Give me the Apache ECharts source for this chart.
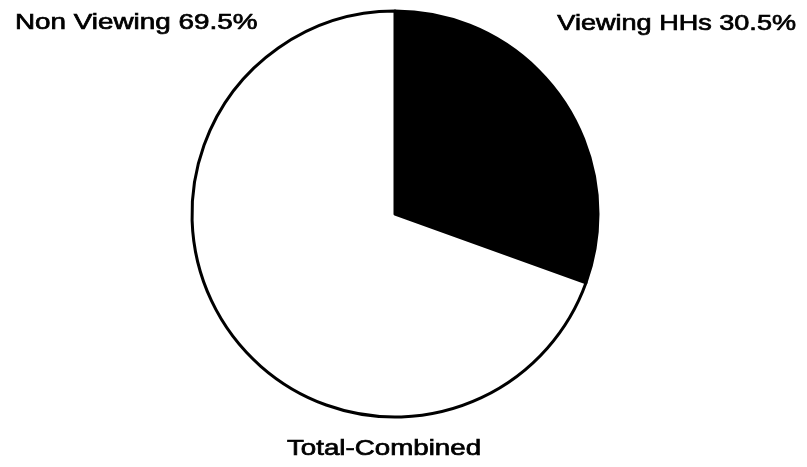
<!DOCTYPE html>
<html>
<head>
<meta charset="utf-8">
<script src="https://cdn.jsdelivr.net/npm/echarts@6/dist/echarts.min.js"></script>
<style>
  html, body { margin: 0; padding: 0; background: #fff; }
  #chart { width: 807px; height: 467px; }
</style>
</head>
<body>
<div id="chart"></div>
<script>
// Household viewing share, total combined
const categories = ['Viewing HHs', 'Non Viewing'];
const shares = [30.5, 69.5];
const sliceColors = ['#000000', '#ffffff'];
const chartTitle = 'Total-Combined';

const labelText = categories.map((c, i) => c + ' ' + shares[i].toFixed(1) + '%');

const FONT = '22px "Liberation Sans", Arial, Helvetica, sans-serif';

// Wide, slightly heavy lettering
function wideText(text, x, y, align, stretch) {
  return {
    type: 'text', x: x, y: y, scaleX: stretch,
    style: {
      text: text, font: FONT, fill: '#000',
      stroke: '#000', lineWidth: 0.7,
      textAlign: align, textVerticalAlign: 'middle'
    }
  };
}

const chart = echarts.init(document.getElementById('chart'), null, { renderer: 'canvas' });

chart.setOption({
  backgroundColor: '#ffffff',
  animation: false,
  series: [{
    type: 'pie',
    center: [395, 214],
    radius: 203,
    startAngle: 90,
    clockwise: true,
    silent: true,
    label: { show: false },
    labelLine: { show: false },
    data: categories.map((c, i) => ({
      name: c,
      value: shares[i],
      itemStyle: { color: sliceColors[i], borderColor: '#000', borderWidth: 3 }
    }))
  }],
  graphic: [
    wideText(labelText[1], 15, 23, 'left', 1.265),
    wideText(labelText[0], 796, 24, 'right', 1.23),
    wideText(chartTitle, 384, 449, 'center', 1.26)
  ]
});
</script>
</body>
</html>
